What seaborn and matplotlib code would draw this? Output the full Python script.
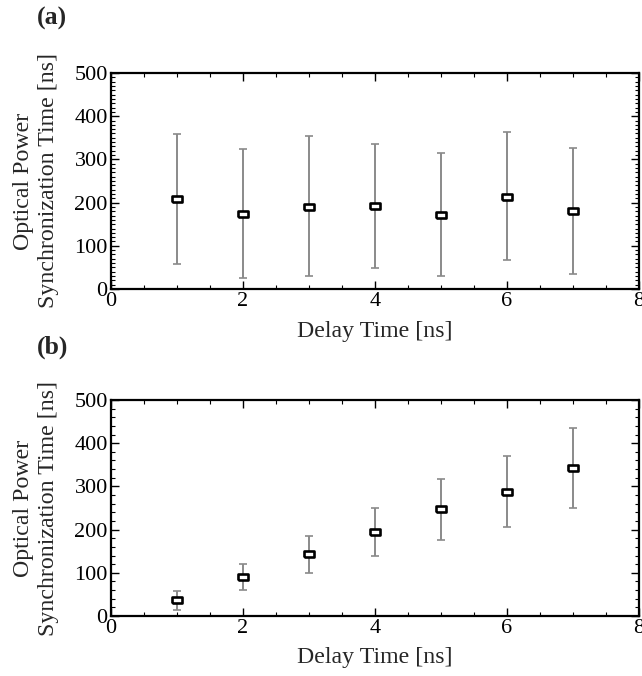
import matplotlib
matplotlib.use("Agg")
import matplotlib.pyplot as plt
import seaborn as sns
import pandas as pd
from matplotlib.ticker import MultipleLocator

# Data
delay = [1, 2, 3, 4, 5, 6, 7]
a_mean = [208, 174, 190, 192, 172, 214, 181]
a_upper = [358, 323, 354, 335, 315, 364, 327]
a_lower = [58, 25, 30, 49, 30, 67, 35]

b_mean = [37, 91, 144, 195, 248, 288, 343]
b_upper = [58, 121, 186, 251, 318, 370, 435]
b_lower = [14, 60, 99, 139, 177, 207, 249]

x_ticks = [0, 2, 4, 6, 8]
y_ticks = [0, 100, 200, 300, 400, 500]
x_label = "Delay Time [ns]"
y_label = "Optical Power\nSynchronization Time [ns]"

sns.set_theme(style="ticks")
plt.rcParams['font.family'] = ['Liberation Serif', 'DejaVu Serif']

W, H = 642, 676
fig = plt.figure(figsize=(W / 100, H / 100), dpi=100)

def add_axes(left, top, right, bottom):
    return fig.add_axes([left / W, 1 - bottom / H, (right - left) / W, (bottom - top) / H])

ax_a = add_axes(110.5, 73, 639, 289)
ax_b = add_axes(110.5, 400, 639, 616)

rect_marker = [(-1.35, -1.0), (1.35, -1.0), (1.35, 1.0), (-1.35, 1.0), (-1.35, -1.0)]

panels = [
    (ax_a, a_mean, a_upper, a_lower, "(a)", 18, 10),
    (ax_b, b_mean, b_upper, b_lower, "(b)", 347, 20),
]

for ax, mean, up, lo, tag, tag_y, yminor in panels:
    df = pd.DataFrame({"delay": delay, "mean": mean})
    yerr = [[m - l for m, l in zip(mean, lo)], [u - m for m, u in zip(mean, up)]]
    ax.errorbar(delay, mean, yerr=yerr, fmt="none", ecolor="#8a8a8a",
                elinewidth=1.4, capsize=3, capthick=1.2, zorder=2)
    sns.scatterplot(data=df, x="delay", y="mean", ax=ax, marker=rect_marker, s=42,
                    facecolor="white", edgecolor="black", linewidth=1.9, zorder=3)
    ax.set_xlim(0, 8)
    ax.set_ylim(0, 500)
    ax.set_xticks(x_ticks)
    ax.set_yticks(y_ticks)
    ax.xaxis.set_minor_locator(MultipleLocator(0.5))
    ax.yaxis.set_minor_locator(MultipleLocator(yminor))
    ax.tick_params(which="both", direction="in", top=True, right=True,
                   labelsize=16, colors="black", pad=2)
    ax.tick_params(which="major", length=6, width=1.0)
    ax.tick_params(which="minor", length=3, width=0.8)
    for s in ax.spines.values():
        s.set_linewidth(1.6)
        s.set_color("black")
    ax.set_xlabel(x_label, fontsize=17.2, labelpad=7)
    ax.set_ylabel(y_label, fontsize=17.2, labelpad=11, linespacing=1.25)
    fig.text(37 / W, 1 - tag_y / H, tag, fontsize=18.5, fontweight="bold",
             va="center", ha="left")

fig.savefig("out.png", dpi=100)
